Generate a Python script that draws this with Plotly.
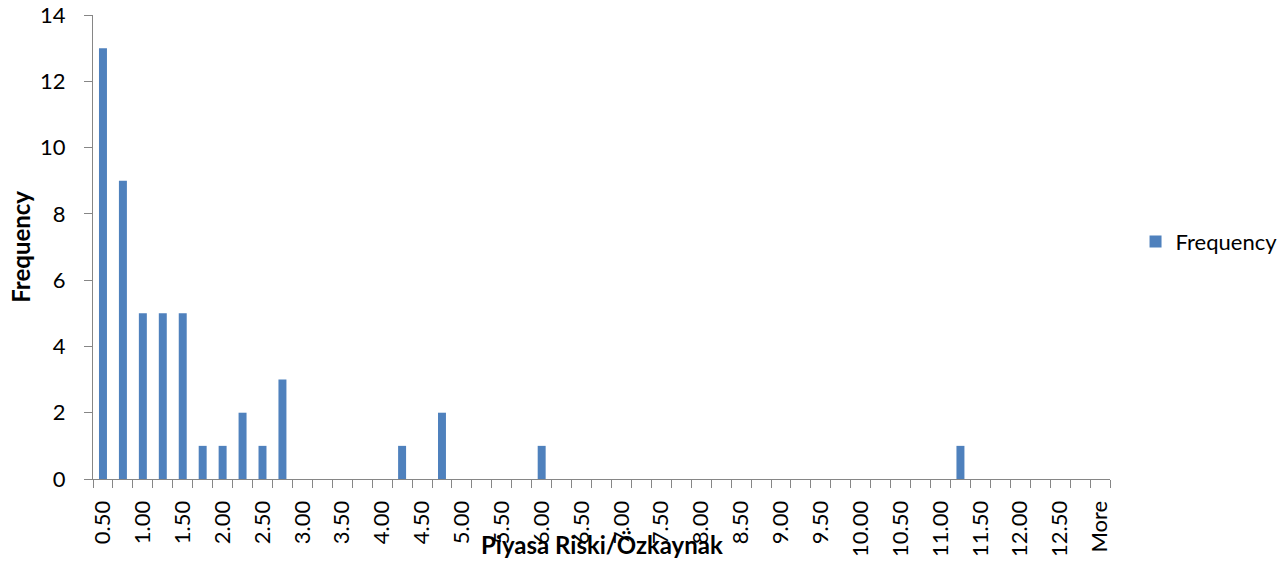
import plotly.graph_objects as go

# Histogram bins (upper bin edges) and counts
bins = [f"{0.5 + 0.25 * i:.2f}" for i in range(50)] + ["More"]
counts = [13, 9, 5, 5, 5, 1, 1, 2, 1, 3,
          0, 0, 0, 0, 0, 1, 0, 2, 0, 0,
          0, 0, 1, 0, 0, 0, 0, 0, 0, 0,
          0, 0, 0, 0, 0, 0, 0, 0, 0, 0,
          0, 0, 0, 1, 0, 0, 0, 0, 0, 0,
          0]
# Only every other bin gets a printed label
tick_text = [b if i % 2 == 0 else "" for i, b in enumerate(bins)]

FONT = "Lato, Carlito, Calibri, sans-serif"
AXIS_GREY = "#868686"
BAR_BLUE = "#4F81BD"
TXT = 22
TITLE_TXT = 24

fig = go.Figure()
fig.add_trace(go.Bar(
    x=bins, y=counts, name="Frequency",
    marker=dict(color=BAR_BLUE, line=dict(width=0)),
    width=0.4,
))

fig.update_layout(
    width=1286, height=561,
    margin=dict(l=93, r=176, t=15, b=82, autoexpand=False),
    paper_bgcolor="white", plot_bgcolor="white",
    font=dict(family=FONT, size=TXT, color="black"),
    showlegend=True,
    legend=dict(xref="container", yref="container",
                x=0.883, y=0.569, xanchor="left", yanchor="middle",
                font=dict(family=FONT, size=TXT, color="black"),
                bgcolor="rgba(0,0,0,0)"),
    xaxis=dict(
        type="category",
        tickmode="array", tickvals=bins, ticktext=tick_text,
        tickson="boundaries",
        tickangle=-90,
        ticks="outside", ticklen=8, tickcolor=AXIS_GREY, tickwidth=1,
        ticklabelstandoff=12,
        showline=True, linecolor=AXIS_GREY, linewidth=1,
        showgrid=False, zeroline=False,
        tickfont=dict(family=FONT, size=TXT, color="black"),
        automargin=False,
    ),
    yaxis=dict(
        range=[0, 14], dtick=2, tick0=0,
        ticks="outside", ticklen=8, tickcolor=AXIS_GREY, tickwidth=1,
        ticklabelstandoff=14,
        showline=True, linecolor=AXIS_GREY, linewidth=1,
        showgrid=False, zeroline=False,
        tickfont=dict(family=FONT, size=TXT, color="black"),
        automargin=False,
    ),
    annotations=[
        dict(text="<b>Piyasa Riski/Özkaynak</b>", xref="paper", yref="paper",
             x=0.5, y=-0.142, xanchor="center", yanchor="middle",
             showarrow=False, font=dict(family=FONT, size=TITLE_TXT, color="black")),
        dict(text="<b>Frequency</b>", xref="paper", yref="paper",
             x=-0.072, y=0.5, xanchor="center", yanchor="middle", textangle=-90,
             showarrow=False, font=dict(family=FONT, size=TITLE_TXT, color="black")),
    ],
)

fig.write_html("out.html")
